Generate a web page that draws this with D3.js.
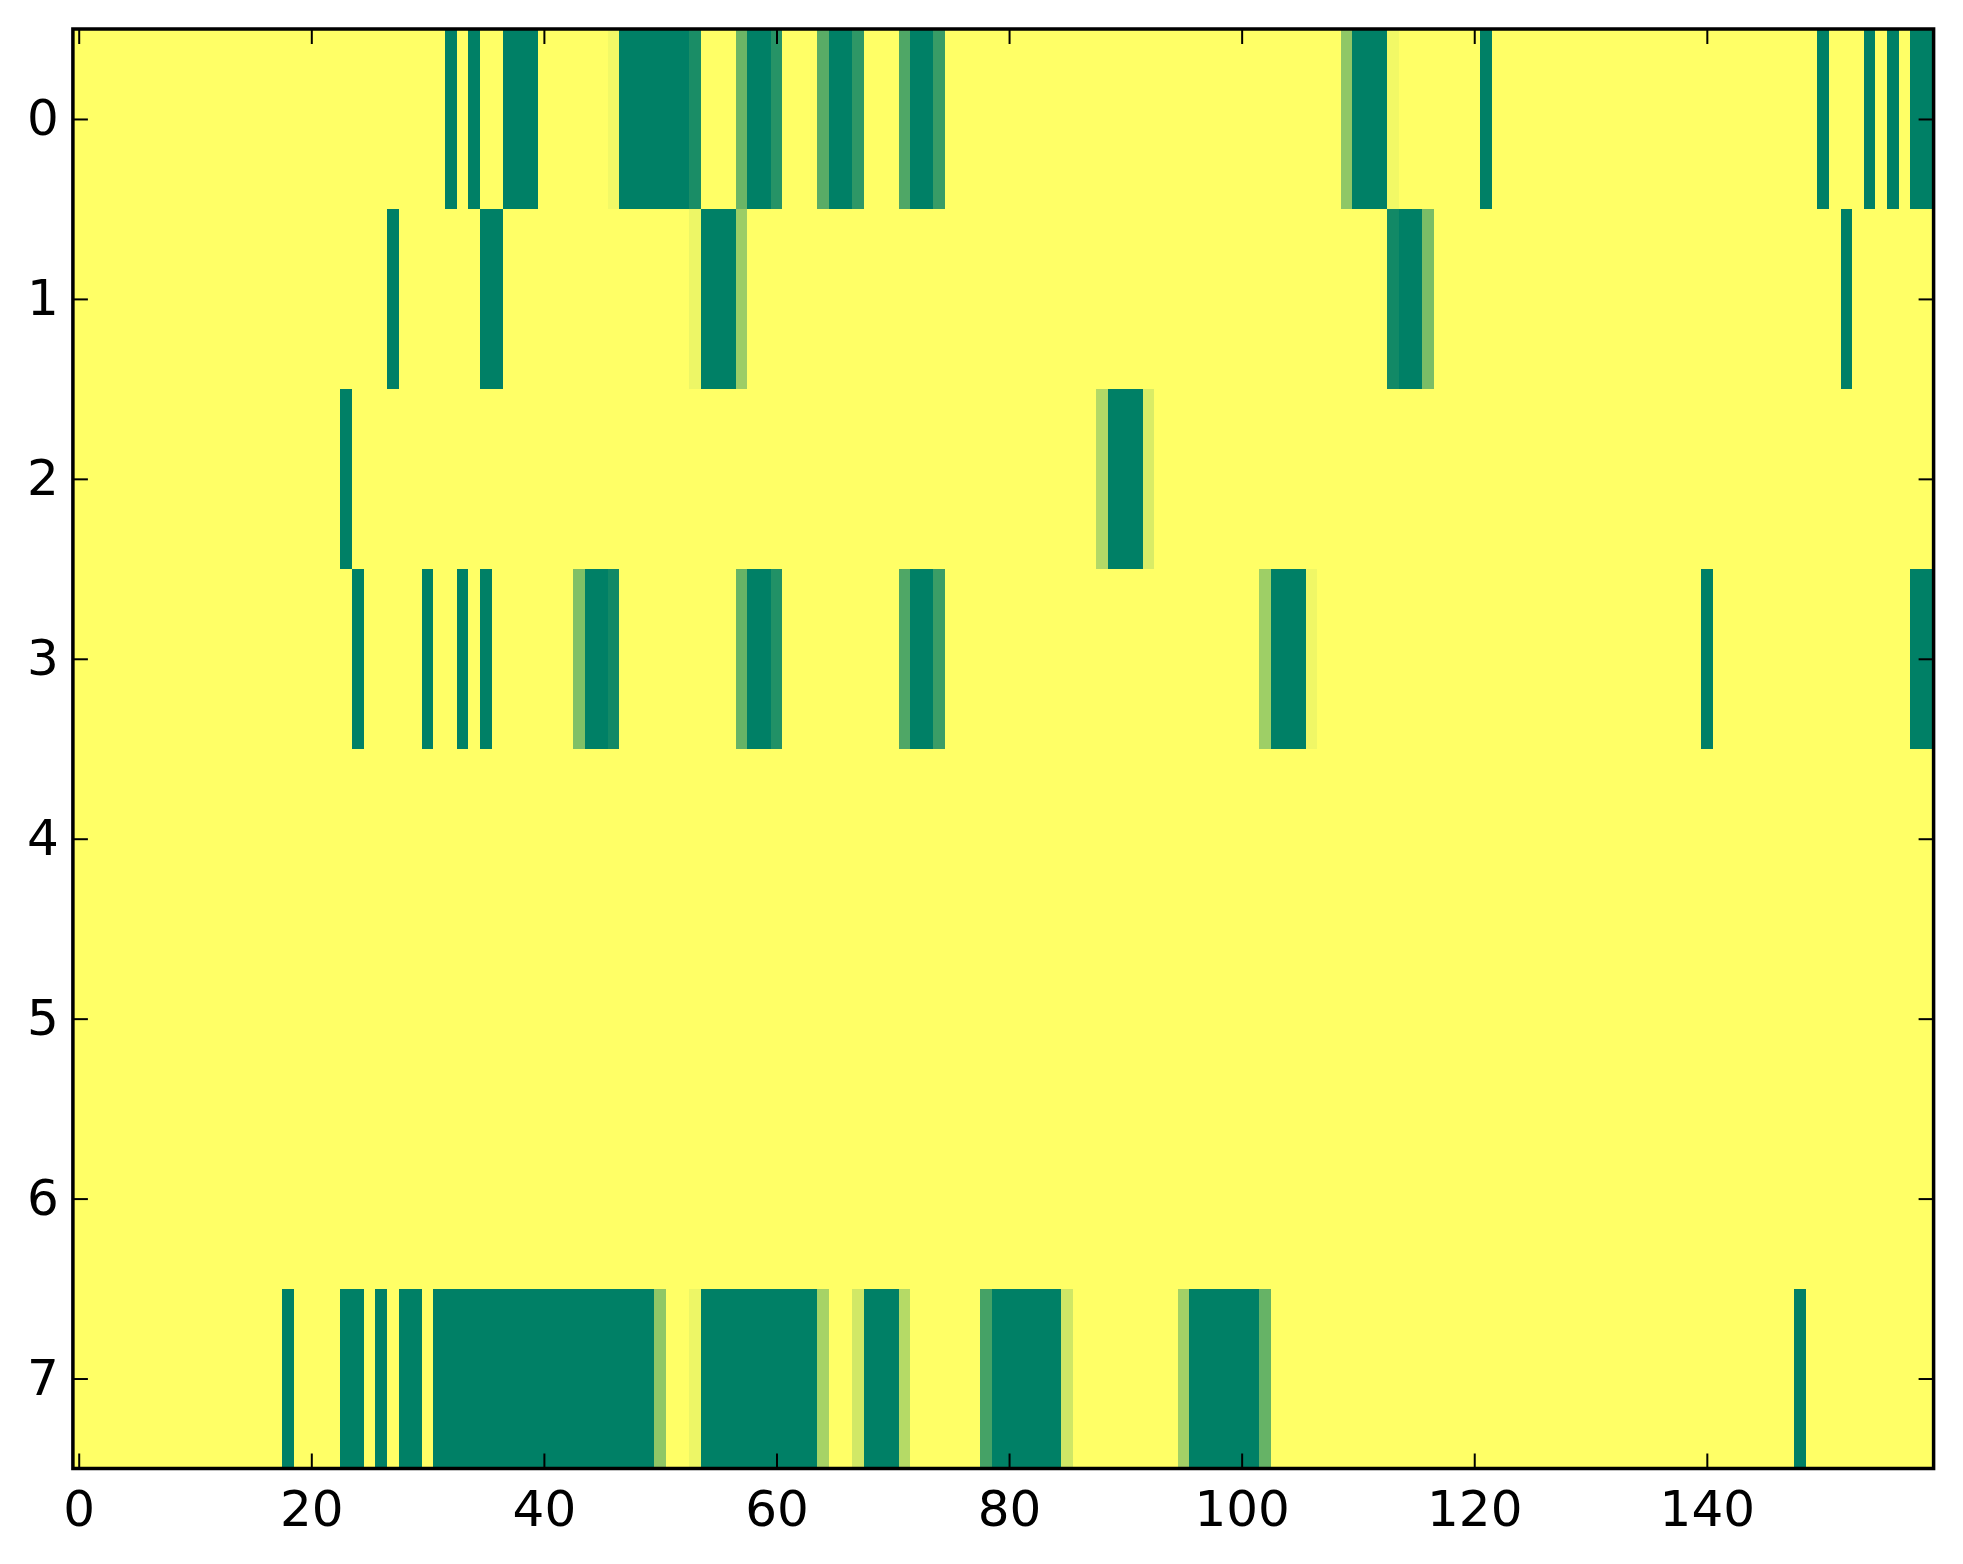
<!DOCTYPE html>
<html>
<head>
<meta charset="utf-8">
<script src="https://cdn.jsdelivr.net/npm/d3@7"></script>
<style>
  body { margin: 0; background: #fff; }
</style>
</head>
<body>
<div id="chart"></div>
<script>
// image values, one list per row: [first column, last column, value]
// (everything not listed is 0)
var nCols = 160;
var row0 = [[32, 32, 1], [34, 34, 1], [37, 39, 1], [46, 46, 0.05], [47, 52, 1], [53, 53, 0.9],
            [57, 57, 0.58], [58, 59, 1], [60, 60, 0.85], [64, 64, 0.65], [65, 66, 1], [67, 67, 0.82],
            [71, 71, 0.69], [72, 73, 1], [74, 74, 0.78], [109, 109, 0.44], [110, 112, 1],
            [113, 113, 0.05], [121, 121, 1], [150, 150, 1], [154, 154, 1], [156, 156, 1], [158, 159, 1]];
var row1 = [[27, 27, 1], [35, 36, 1], [53, 53, 0.07], [54, 56, 1], [57, 57, 0.39],
            [113, 113, 0.93], [114, 115, 1], [116, 116, 0.52], [152, 152, 1]];
var row2 = [[23, 23, 1], [88, 88, 0.3], [89, 91, 1], [92, 92, 0.15]];
var row3 = [[24, 24, 1], [30, 30, 1], [33, 33, 1], [35, 35, 1], [43, 43, 0.5], [44, 45, 1],
            [46, 46, 0.93], [57, 57, 0.6], [58, 59, 1], [60, 60, 0.87], [71, 71, 0.69], [72, 73, 1],
            [74, 74, 0.77], [102, 102, 0.38], [103, 105, 1], [106, 106, 0.06], [140, 140, 1], [158, 159, 1]];
var row4 = [];
var row5 = [];
var row6 = [];
var row7 = [[18, 18, 1], [23, 24, 1], [26, 26, 1], [28, 29, 1], [31, 49, 1], [50, 50, 0.44],
            [53, 53, 0.07], [54, 63, 1], [64, 64, 0.35], [67, 67, 0.18], [68, 70, 1], [71, 71, 0.29],
            [78, 78, 0.73], [79, 84, 1], [85, 85, 0.19], [95, 95, 0.36], [96, 101, 1], [102, 102, 0.6],
            [148, 148, 1]];

var xTicks = [0, 20, 40, 60, 80, 100, 120, 140];
var yTicks = [0, 1, 2, 3, 4, 5, 6, 7];

var svgWidth = 1963;
var svgHeight = 1564;

var margin = {
    top: 29,
    right: 29.4,
    bottom: 95.5,
    left: 72.9
};

var width = svgWidth - margin.left - margin.right;
var height = svgHeight - margin.top - margin.bottom;

var svg = d3.select("#chart")
    .append("svg")
    .attr("width", svgWidth)
    .attr("height", svgHeight)
    .style("background", "#fff");

var chartGroup = svg.append("g")
    .attr("transform", `translate(${margin.left}, ${margin.top})`);

// expand the run lists into cells
var rows = [row0, row1, row2, row3, row4, row5, row6, row7];
var cells = [];
rows.forEach(function (runs, r) {
    var vals = new Array(nCols).fill(0);
    runs.forEach(function (run) {
        for (var c = run[0]; c <= run[1]; c++) vals[c] = run[2];
    });
    vals.forEach(function (v, c) {
        cells.push({row: r, col: c, value: v});
    });
});

var xScale = d3.scaleLinear()
    .domain([-0.5, nCols - 0.5])
    .range([0, width]);

var yScale = d3.scaleLinear()
    .domain([-0.5, rows.length - 0.5])
    .range([0, height]);

// summer_r colormap
var color = d3.scaleLinear()
    .domain([0, 1])
    .range(["#ffff66", "#008066"]);

chartGroup.append("g")
    .selectAll("rect")
    .data(cells)
    .enter()
    .append("rect")
    .attr("x", d => xScale(d.col - 0.5))
    .attr("y", d => yScale(d.row - 0.5))
    .attr("width", d => xScale(d.col + 0.5) - xScale(d.col - 0.5))
    .attr("height", d => yScale(d.row + 0.5) - yScale(d.row - 0.5))
    .attr("fill", d => color(d.value))
    .attr("shape-rendering", "crispEdges");

// axes, ticks pointing inwards on all four sides
function styleAxis(g) {
    g.select(".domain").remove();
    g.selectAll(".tick line")
        .attr("stroke", "#000")
        .attr("stroke-width", 2);
    g.selectAll("text")
        .attr("fill", "#000");
    g.attr("font-family", "DejaVu Sans")
        .attr("font-size", 50);
}

chartGroup.append("g")
    .attr("transform", `translate(0, ${height})`)
    .call(d3.axisBottom(xScale).tickValues(xTicks).tickSize(-15).tickPadding(22))
    .call(styleAxis);

chartGroup.append("g")
    .call(d3.axisTop(xScale).tickValues(xTicks).tickSize(-15).tickFormat(""))
    .call(styleAxis);

chartGroup.append("g")
    .call(d3.axisLeft(yScale).tickValues(yTicks).tickSize(-15).tickPadding(14))
    .call(styleAxis);

chartGroup.append("g")
    .attr("transform", `translate(${width}, 0)`)
    .call(d3.axisRight(yScale).tickValues(yTicks).tickSize(-15).tickFormat(""))
    .call(styleAxis);

// frame
chartGroup.append("rect")
    .attr("x", 0)
    .attr("y", 0)
    .attr("width", width)
    .attr("height", height)
    .attr("fill", "none")
    .attr("stroke", "#000")
    .attr("stroke-width", 3.5);
</script>
</body>
</html>
